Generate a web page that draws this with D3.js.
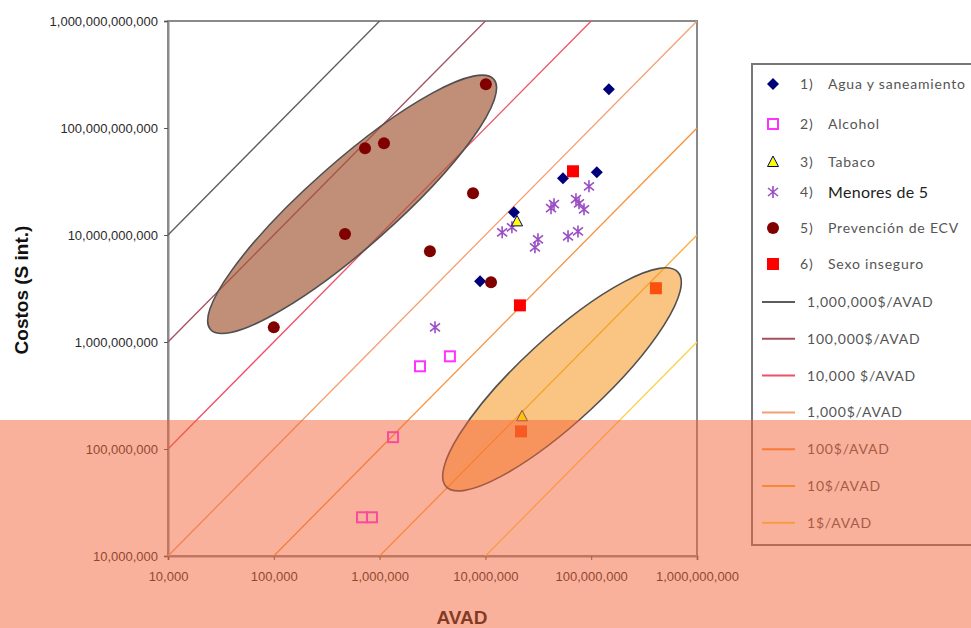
<!DOCTYPE html>
<html>
<head>
<meta charset="utf-8">
<script src="https://cdn.jsdelivr.net/npm/d3@7"></script>
<style>
body { margin: 0; background: #fff; }
svg { display: block; }
.tick text { font-family: "Liberation Sans", Arial, sans-serif; font-size: 13px; fill: #2a2a2a; }
.legend text { font-family: Lato, "Open Sans", sans-serif; font-size: 14px; fill: #555; letter-spacing: 0.8px; }
</style>
</head>
<body>
<svg id="chart" width="971" height="628"></svg>
<script>
// ---- data (AVAD, costo) ----
var avadTicks = [1e4, 1e5, 1e6, 1e7, 1e8, 1e9];
var costTicks = [1e7, 1e8, 1e9, 1e10, 1e11, 1e12];

var agua = [[1.47e8, 2.30e11], [1.13e8, 3.85e10], [5.41e7, 3.39e10], [1.86e7, 1.63e10], [8.9e6, 3.69e9]];
var alcohol = [[4.62e6, 7.35e8], [2.41e6, 5.93e8], [1.34e6, 1.29e8], [6.82e5, 2.30e7], [8.47e5, 2.30e7]];
var tabaco = [[1.99e7, 1.34e10], [2.22e7, 2.02e8]];
var menores = [[9.53e7, 2.85e10], [7.18e7, 2.16e10], [7.67e7, 1.98e10], [8.55e7, 1.74e10], [4.45e7, 1.94e10],
               [4.17e7, 1.78e10], [1.44e7, 1.06e10], [1.78e7, 1.18e10], [3.14e7, 9.12e9], [2.94e7, 7.67e9],
               [6.04e7, 9.72e9], [7.50e7, 1.08e10], [3.34e6, 1.37e9]];
var ecv = [[1.01e7, 2.56e11], [1.10e6, 7.19e10], [7.28e5, 6.46e10], [7.64e6, 2.45e10], [4.71e5, 1.02e10],
           [2.99e6, 7.04e9], [1.13e7, 3.61e9], [1.0e5, 1.37e9]];
var sexo = [[6.73e7, 3.94e10], [2.12e7, 2.20e9], [4.09e8, 3.18e9], [2.17e7, 1.46e8]];

var seriesLabels = ["Agua y saneamiento", "Alcohol", "Tabaco", "Menores de 5", "Prevención de ECV", "Sexo inseguro"];

// costo-efectividad ($/AVAD)
var ratios = [1e6, 1e5, 1e4, 1e3, 100, 10, 1];
var ratioLabels = ["1,000,000$/AVAD", "100,000$/AVAD", "10,000 $/AVAD", "1,000$/AVAD", "100$/AVAD", "10$/AVAD", "1$/AVAD"];
var ratioColors = ["#5c5c5c", "#a4505e", "#ee5064", "#f3a070", "#f8913a", "#fbad38", "#fbd250"];

// elipses: extremos del eje mayor y semi-eje menor (en décadas)
var ecvEllipseTips = [[2.52e4, 1.31e9], [1.2e7, 2.86e11]];
var ecvEllipseMinor = 0.40;
var sexoEllipseTips = [[4.25e6, 4.45e7], [6.6e8, 4.5e9]];
var sexoEllipseMinor = 0.39;

var svg = d3.select("#chart");
var x = d3.scaleLog().domain([1e4, 1e9]).range([168, 697]);
var y = d3.scaleLog().domain([1e7, 1e12]).range([556, 21]);

svg.append("clipPath").attr("id", "plotclip")
    .append("rect").attr("x", 168).attr("y", 21).attr("width", 529).attr("height", 535);

// frame
svg.append("rect")
    .attr("x", 168).attr("y", 21).attr("width", 529).attr("height", 535)
    .attr("fill", "none").attr("stroke", "#8a8a8a").attr("stroke-width", 2);

// axes
var fmt = d3.format(",.0f");
var yAxis = svg.append("g").attr("transform", "translate(168,0)")
    .call(d3.axisLeft(y).tickValues(costTicks).tickFormat(fmt).tickSize(4).tickPadding(6));
var xAxis = svg.append("g").attr("transform", "translate(0,556)")
    .call(d3.axisBottom(x).tickValues(avadTicks).tickFormat(fmt).tickSize(4).tickPadding(12));
[yAxis, xAxis].forEach(function (g) {
    g.select(".domain").attr("stroke", "#8a8a8a").attr("stroke-width", 2);
    g.selectAll(".tick line").attr("stroke", "#555");
});

// cost-effectiveness lines
var linesG = svg.append("g").attr("clip-path", "url(#plotclip)");
ratios.forEach(function (r, i) {
    var a0 = Math.max(1e4, 1e7 / r);
    var a1 = Math.min(1e9, 1e12 / r);
    linesG.append("line")
        .attr("x1", x(a0)).attr("y1", y(r * a0))
        .attr("x2", x(a1)).attr("y2", y(r * a1))
        .attr("stroke", ratioColors[i]).attr("stroke-width", 1.3);
});

function drawEllipse(tips, minorDec, fill, opacity) {
    var p1 = [x(tips[0][0]), y(tips[0][1])];
    var p2 = [x(tips[1][0]), y(tips[1][1])];
    var cx = (p1[0] + p2[0]) / 2, cy = (p1[1] + p2[1]) / 2;
    var rx = Math.hypot(p2[0] - p1[0], p2[1] - p1[1]) / 2;
    var ry = Math.abs(y(1e7) - y(1e7 * Math.pow(10, minorDec)));
    var ang = Math.atan2(p2[1] - p1[1], p2[0] - p1[0]) * 180 / Math.PI;
    svg.append("ellipse")
        .attr("cx", cx).attr("cy", cy).attr("rx", rx).attr("ry", ry)
        .attr("transform", "rotate(" + ang + "," + cx + "," + cy + ")")
        .attr("fill", fill).attr("fill-opacity", opacity)
        .attr("stroke", "#505050").attr("stroke-width", 1.6);
}

drawEllipse(ecvEllipseTips, ecvEllipseMinor, "#a45838", 0.68);

// marker shapes
var diamond = "M0,-6L6,0L0,6L-6,0Z";
var asterisk = "M0,-6L0,6M-5,-4L5,4M-5,4L5,-4";

function markAgua(g) { g.append("path").attr("d", diamond).attr("fill", "#00007a"); }
function markAlcohol(g) { g.append("rect").attr("x", -5).attr("y", -5).attr("width", 10).attr("height", 10).attr("fill", "none").attr("stroke", "#ff33ff").attr("stroke-width", 2); }
function markTabaco(g) { g.append("path").attr("d", "M0,-6L5.5,4.5L-5.5,4.5Z").attr("fill", "#ffff00").attr("stroke", "#000080").attr("stroke-width", 1); }
function markMenores(g) { g.append("path").attr("d", asterisk).attr("stroke", "#9a4dc4").attr("stroke-width", 1.6).attr("fill", "none"); }
function markEcv(g) { g.append("circle").attr("r", 6).attr("fill", "#800000"); }
function markSexo(g) { g.append("rect").attr("x", -6).attr("y", -6).attr("width", 12).attr("height", 12).attr("fill", "#ff0000"); }

var allSeries = [
    [agua, markAgua], [alcohol, markAlcohol], [menores, markMenores],
    [ecv, markEcv], [sexo, markSexo], [tabaco, markTabaco]
];
allSeries.forEach(function (s) {
    s[0].forEach(function (d) {
        var g = svg.append("g").attr("transform", "translate(" + x(d[0]) + "," + y(d[1]) + ")");
        s[1](g);
    });
});

drawEllipse(sexoEllipseTips, sexoEllipseMinor, "#f6931b", 0.55);

// legend
var legend = svg.append("g").attr("class", "legend");
legend.append("rect").attr("x", 752).attr("y", 64).attr("width", 240).attr("height", 481)
    .attr("fill", "#fff").attr("stroke", "#777").attr("stroke-width", 2);

var markFns = [markAgua, markAlcohol, markTabaco, markMenores, markEcv, markSexo];
var legendRowsY = [84, 124, 162, 192, 228, 264];
seriesLabels.forEach(function (lab, i) {
    var g = legend.append("g").attr("transform", "translate(773," + legendRowsY[i] + ")");
    markFns[i](g);
    legend.append("text").attr("x", 800).attr("y", legendRowsY[i]).attr("dy", "0.35em").text((i + 1) + ")");
    var t = legend.append("text").attr("x", 828).attr("y", legendRowsY[i]).attr("dy", "0.35em").text(lab);
    if (i === 3) t.style("font-size", "16px").style("fill", "#222").style("letter-spacing", "0.3px");
});
ratioLabels.forEach(function (lab, i) {
    var yy = 302 + i * 36.8;
    legend.append("line").attr("x1", 762).attr("x2", 795).attr("y1", yy).attr("y2", yy)
        .attr("stroke", ratioColors[i]).attr("stroke-width", 2);
    legend.append("text").attr("x", 807).attr("y", yy).attr("dy", "0.35em").text(lab);
});

// axis titles
svg.append("text")
    .attr("transform", "translate(28,290) rotate(-90)")
    .attr("text-anchor", "middle")
    .style("font-family", "'Liberation Sans', Arial, sans-serif")
    .style("font-weight", "bold").style("font-size", "19px").style("fill", "#111")
    .text("Costos (S int.)");
svg.append("text")
    .attr("x", 462).attr("y", 624)
    .attr("text-anchor", "middle")
    .style("font-family", "'Liberation Sans', Arial, sans-serif")
    .style("font-weight", "bold").style("font-size", "19px").style("fill", "#111")
    .text("AVAD");

// salmon overlay band
svg.append("rect").attr("x", 0).attr("y", 420).attr("width", 971).attr("height", 208)
    .attr("fill", "rgb(244,100,56)").attr("fill-opacity", 0.5);
</script>
</body>
</html>
